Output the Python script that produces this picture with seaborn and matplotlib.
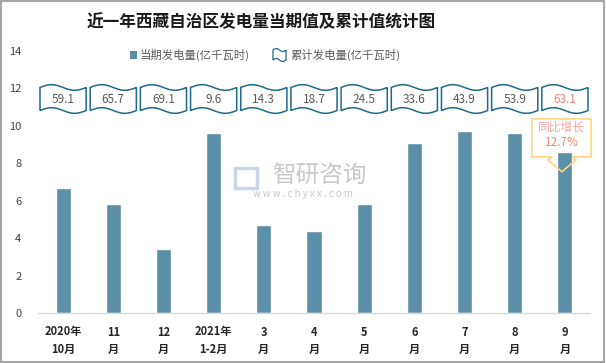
import numpy as np
import pandas as pd
import seaborn as sns
import matplotlib.pyplot as plt
from matplotlib.patches import Polygon, Rectangle

# 数据
months = ['2020年\n10月', '11\n月', '12\n月', '2021年\n1-2月', '3\n月', '4\n月',
          '5\n月', '6\n月', '7\n月', '8\n月', '9\n月']
current = [6.7, 5.8, 3.4, 9.6, 4.7, 4.4, 5.8, 9.1, 9.7, 9.6, 8.6]
cumulative = ['59.1', '65.7', '69.1', '9.6', '14.3', '18.7', '24.5', '33.6', '43.9', '53.9', '63.1']
yoy_label = '同比增长'
yoy_value = '12.7%'

bar_color = '#5B8FA8'
flag_color = '#1F6A8A'

sns.set_theme(style='white')
plt.rcParams['font.family'] = ['Noto Sans CJK SC', 'DejaVu Sans']

df = pd.DataFrame({'month': months, 'value': current})

fig = plt.figure(figsize=(6.06, 3.63), dpi=100)
ax = fig.add_axes([38 / 606, 1 - 313 / 363, 552 / 606, 262 / 363])
sns.barplot(data=df, x='month', y='value', color=bar_color, width=0.3,
            saturation=1, ax=ax)

ax.set_ylim(0, 14)
ax.set_xlim(-0.5, len(months) - 0.5)
ax.set_yticks(range(0, 15, 2))
ax.set_xlabel('')
ax.set_ylabel('')
for s in ['top', 'right', 'left']:
    ax.spines[s].set_visible(False)
ax.spines['bottom'].set_color('#D9D9D9')
ax.spines['bottom'].set_linewidth(1)
ax.tick_params(axis='y', length=0, pad=12, labelsize=8, labelcolor='#404040')
ax.tick_params(axis='x', length=0, pad=9, labelsize=8, labelcolor='#262626')
for lab in ax.get_xticklabels():
    lab.set_fontweight('bold')
    lab.set_linespacing(1.45)


def flag_path(x0, x1, ybot, ytop, amp, n=40):
    t = np.linspace(0, 1, n)
    xs = x0 + (x1 - x0) * t
    top = ytop + amp * np.sin(2 * np.pi * t)
    bot = ybot + amp * np.sin(2 * np.pi * t)
    return np.vstack([np.column_stack([xs, top]), np.column_stack([xs[::-1], bot[::-1]])])


# 累计值旗形框
for i, c in enumerate(cumulative):
    pts = flag_path(i - 0.46, i + 0.46, 10.82, 12.05, 0.15)
    ax.add_patch(Polygon(pts, closed=True, facecolor='white', edgecolor=flag_color,
                         linewidth=1.1, zorder=3))
    col = '#F4826B' if i == len(cumulative) - 1 else '#595959'
    ax.text(i, 11.42, c, ha='center', va='center', fontsize=8.5, color=col, zorder=4)

# 同比增长标注
xi = len(current) - 1
xc = xi - 0.06
callout = [(xi - 0.66, 10.37), (xi + 0.52, 10.37), (xi + 0.52, 8.34),
           (xc + 0.2, 8.34), (xc + 0.28, 8.18), (xc, 7.55), (xc - 0.28, 8.18),
           (xc - 0.2, 8.34), (xi - 0.66, 8.34)]
ax.add_patch(Polygon(callout, closed=True, facecolor='none', edgecolor='#FFD680',
                     linewidth=1.2, zorder=5, clip_on=False))
ax.text(xi - 0.07, 9.9, yoy_label, ha='center', va='center', fontsize=8.5,
        color='#F4A6A0', zorder=6)
ax.text(xi - 0.07, 9.1, yoy_value, ha='center', va='center', fontsize=8.5,
        color='#F08A6A', zorder=6)

# 水印
fig.text(319 / 606, 1 - 176 / 363, '智研咨询', ha='center', va='center', fontsize=17,
         color='#C8C8C8', zorder=0)
fig.text(303 / 606, 1 - 194 / 363, 'w w w . c h y x x . c o m', ha='center', va='center',
         fontsize=7, color='#C8C8C8', zorder=0)
fig.patches.append(Rectangle((235 / 606, 1 - 188 / 363), 22 / 606, 20 / 363,
                             transform=fig.transFigure, facecolor='none',
                             edgecolor='#C9D6EA', linewidth=2.5))

# 标题
fig.text(261 / 606, 1 - 22 / 363, '近一年西藏自治区发电量当期值及累计值统计图',
         ha='center', va='center', fontsize=12, fontweight='bold', color='#1A1A1A')

# 图例
ly = 1 - 55 / 363
fig.patches.append(Rectangle((130 / 606, ly - 4 / 363), 7 / 606, 8 / 363,
                             transform=fig.transFigure, facecolor=bar_color,
                             edgecolor='none'))
fig.text(140 / 606, ly, '当期发电量(亿千瓦时)', ha='left', va='center', fontsize=8.2,
         color='#595959')
t = np.linspace(0, 1, 30)
lx = 273 + 13 * t
top = 50 - 1.5 * np.sin(2 * np.pi * t)
bot = 60 - 1.5 * np.sin(2 * np.pi * t)
pts = np.vstack([np.column_stack([lx, top]), np.column_stack([lx[::-1], bot[::-1]])])
pts[:, 0] /= 606
pts[:, 1] = 1 - pts[:, 1] / 363
fig.patches.append(Polygon(pts, closed=True, transform=fig.transFigure,
                           facecolor='white', edgecolor=flag_color, linewidth=0.9))
fig.text(290 / 606, ly, '累计发电量(亿千瓦时)', ha='left', va='center', fontsize=8.2,
         color='#595959')

# 外框
fig.patches.append(Rectangle((0.002, 0.003), 0.995, 0.994, transform=fig.transFigure,
                             facecolor='none', edgecolor='#A6A6A6', linewidth=1.5))

fig.savefig('out.png', dpi=100)
